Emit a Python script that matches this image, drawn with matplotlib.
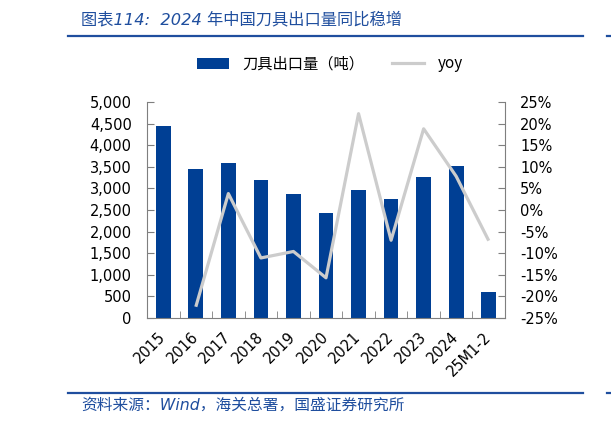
import numpy as np
import matplotlib
matplotlib.use('Agg')
import matplotlib.pyplot as plt
from matplotlib.ticker import FuncFormatter, FixedLocator
from matplotlib.patches import Patch
from matplotlib.lines import Line2D

plt.rcParams['font.family'] = ['DejaVu Sans', 'Noto Sans CJK SC']

years = ['2015', '2016', '2017', '2018', '2019', '2020', '2021', '2022', '2023', '2024', '25M1-2']
export_tons = [4450, 3450, 3580, 3190, 2880, 2430, 2960, 2760, 3260, 3520, 600]
yoy = [np.nan, -22.4, 3.8, -11.1, -9.6, -15.7, 22.3, -7.0, 18.8, 7.8, -7.1]

title = '图表114:  2024 年中国刀具出口量同比稳增'
source = '资料来源：Wind，海关总署，国盛证券研究所'
bar_label = '刀具出口量（吨）'
line_label = 'yoy'

blue = '#003f94'
grey = '#cccccc'
deco = '#1f4e9e'
axc = '#7f7f7f'

W, H = 611, 425
fig = plt.figure(figsize=(W / 100, H / 100), dpi=100)
ax = fig.add_axes([147 / W, 1 - 318 / H, (505 - 147) / W, (318 - 102) / H])
ax2 = ax.twinx()

x = np.arange(len(years))
ax.bar(x, export_tons, width=0.45, color=blue, zorder=2)
ax2.plot(x, yoy, color=grey, lw=2.3, solid_capstyle='butt', zorder=3)

ax.set_xlim(-0.5, len(years) - 0.5)
ax.set_ylim(0, 5000)
ax.set_yticks(np.arange(0, 5001, 500))
ax.yaxis.set_major_formatter(FuncFormatter(lambda v, p: f'{v:,.0f}'))
ax2.set_ylim(-25, 25)
ax2.set_yticks(np.arange(-25, 26, 5))
ax2.yaxis.set_major_formatter(FuncFormatter(lambda v, p: f'{v:.0f}%'))

ax.set_xticks(x)
ax.set_xticklabels(years, rotation=45, ha='right', va='center', rotation_mode='anchor')
ax.xaxis.set_minor_locator(FixedLocator(x[:-1] + 0.5))
ax.tick_params(axis='x', which='major', length=0, pad=12, labelsize=10.5, colors='#000000')
ax.tick_params(axis='x', which='minor', direction='in', length=5, color=axc)
ax.tick_params(axis='y', direction='in', length=5, color=axc, pad=11, labelsize=10.5)
ax2.tick_params(axis='y', direction='in', length=5, color=axc, pad=11, labelsize=10.5)

for a in (ax, ax2):
    a.spines['top'].set_visible(False)
    for s in ('left', 'right', 'bottom'):
        a.spines[s].set_color(axc)
ax.spines['right'].set_visible(False)
ax2.spines['left'].set_visible(False)
ax2.spines['bottom'].set_visible(False)

handles = [Patch(facecolor=blue, edgecolor='none'),
           Line2D([0], [0], color=grey, lw=2.3)]
fig.legend(handles, [bar_label, line_label], loc='center', bbox_to_anchor=(330 / W, 1 - 64 / H),
           ncol=2, frameon=False, handlelength=2.1, handleheight=0.7,
           handletextpad=0.9, columnspacing=1.8,
           prop={'family': ['Noto Sans CJK SC', 'DejaVu Sans'], 'size': 11})

fig.text(81 / W, 1 - 19 / H, title, color=deco, fontsize=11.7, style='italic',
         ha='left', va='center')
fig.add_artist(Line2D([68 / W, 583 / W], [1 - 36 / H] * 2, color=deco, lw=1.6))
fig.add_artist(Line2D([607 / W, 1], [1 - 36 / H] * 2, color=deco, lw=1.6))
fig.add_artist(Line2D([68 / W, 583 / W], [1 - 393 / H] * 2, color=deco, lw=1.6))
fig.add_artist(Line2D([607 / W, 1], [1 - 393 / H] * 2, color=deco, lw=1.6))
fig.text(81 / W, 1 - 405 / H, source, color=deco, fontsize=11.3, style='italic',
         ha='left', va='center')

fig.savefig('out.png', dpi=100)
